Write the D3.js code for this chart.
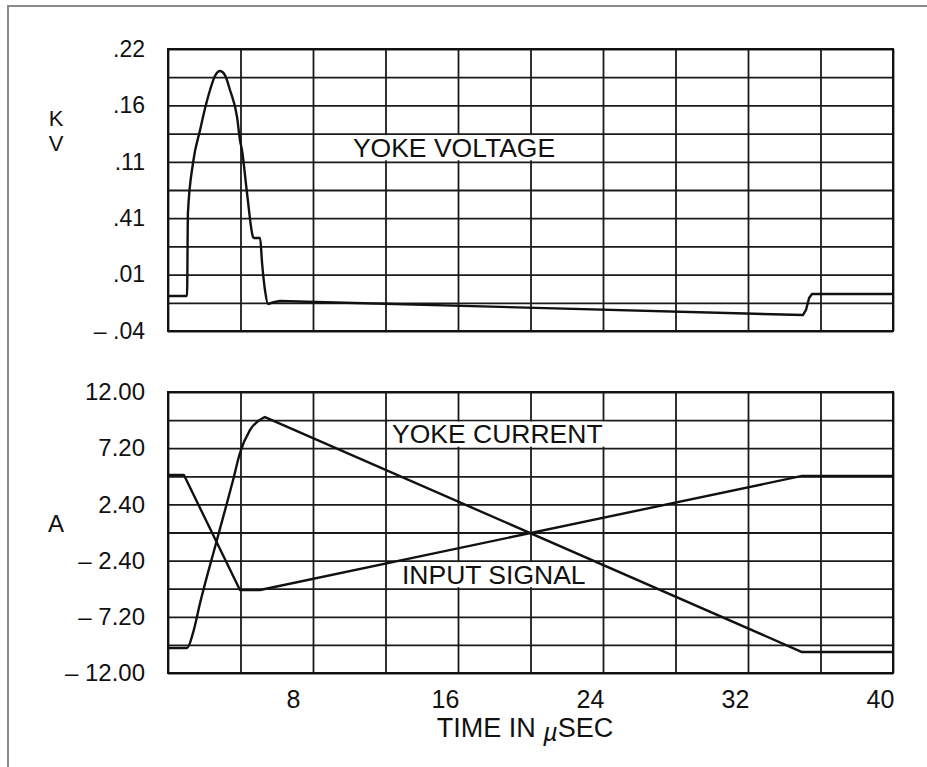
<!DOCTYPE html>
<html>
<head>
<meta charset="utf-8">
<script src="https://cdn.jsdelivr.net/npm/d3@7"></script>
<style>
  html, body { margin: 0; padding: 0; background: #fff; }
  svg { display: block; font-family: "Liberation Sans", Arial, Helvetica, sans-serif; }
  .grid line { stroke: #1a1a1a; stroke-width: 1.8; }
  .grid path { display: none; }
  .ticks path, .ticks line { display: none; }
  .ticks text { fill: #111; }
</style>
</head>
<body>
<svg id="chart" width="927" height="767"></svg>
<script>
// time axis (µs)
const timeTicks = [8, 16, 24, 32, 40];

// tick labels as printed (the ".41" is on the original)
const voltLabels = [".22", ".16", ".11", ".41", ".01", "\u2013 .04"];
const currLabels = ["12.00", "7.20", "2.40", "\u2013 2.40", "\u2013 7.20", "\u2013 12.00"];

// yoke voltage, kV
const voltT = [0, 1.05, 1.10, 1.38, 1.77, 1.93, 2.32, 2.59, 2.87, 3.14, 3.42, 3.81, 3.97, 4.08, 4.36, 4.69, 4.74, 5.08, 5.19, 5.35, 5.52, 5.68, 6.18, 35.03, 35.20, 35.37, 35.53, 40];
const voltV = [-0.0077, -0.0077, 0.0688, 0.1149, 0.1453, 0.1573, 0.1822, 0.1951, 0.1997, 0.196, 0.1822, 0.1573, 0.1361, 0.1269, 0.0872, 0.0467, 0.0457, 0.0457, 0.0227, -0.0022, -0.0151, -0.0142, -0.0123, -0.0253, -0.0206, -0.0096, -0.0059, -0.0059];

// yoke current, A
const currT = [0, 1.05, 1.38, 1.77, 2.70, 3.59, 3.97, 4.52, 5.24, 5.35, 34.98, 40];
const currA = [-9.86, -9.86, -8.58, -6.02, -0.64, 4.48, 6.79, 8.75, 9.78, 9.86, -10.21, -10.21];

// input signal
const inT = [0, 0.88, 3.97, 5.08, 34.98, 40];
const inA = [4.91, 4.91, -4.91, -4.91, 4.83, 4.83];

const svg = d3.select("#chart");

const left = 168, right = 893;
const x = d3.scaleLinear().domain([0, 40]).range([left, right]);
const yV = d3.scaleLinear().domain([-0.04, 0.22]).range([331, 49]);
const yA = d3.scaleLinear().domain([-12, 12]).range([673, 392]);

// paper frame (only top and left edges show)
svg.append("path")
   .attr("d", "M8,767 L8,6 L927,6")
   .attr("fill", "none")
   .attr("stroke", "#8a8a8a")
   .attr("stroke-width", 2);

function panel(yScale, labels, fontSize) {
    const d = yScale.domain();
    const r = yScale.range();
    const step = (d[1] - d[0]) / 10;
    const gridVals = d3.range(11).map(i => d[0] + i * step);
    const labelVals = d3.range(6).map(i => d[1] - i * 2 * step);

    svg.append("g")
       .attr("class", "grid")
       .attr("transform", `translate(0,${r[0]})`)
       .call(d3.axisBottom(x).tickValues(d3.range(0, 41, 4)).tickSize(-(r[0] - r[1])).tickFormat(""));

    svg.append("g")
       .attr("class", "grid")
       .attr("transform", `translate(${left},0)`)
       .call(d3.axisLeft(yScale).tickValues(gridVals).tickSize(-(right - left)).tickFormat(""));

    svg.append("rect")
       .attr("x", left).attr("y", r[1])
       .attr("width", right - left).attr("height", r[0] - r[1])
       .attr("fill", "none").attr("stroke", "#111").attr("stroke-width", 2);

    const ax = svg.append("g")
       .attr("class", "ticks")
       .attr("transform", `translate(${left},0)`)
       .call(d3.axisLeft(yScale).tickValues(labelVals).tickSize(0).tickPadding(23)
             .tickFormat((v, i) => labels[i]));
    ax.selectAll("text").style("font-size", fontSize + "px");
    ax.attr("font-family", null);
}

panel(yV, voltLabels, 23);
panel(yA, currLabels, 24);

// x tick labels (set left of their grid lines, as printed)
const xa = svg.append("g")
   .attr("class", "ticks")
   .attr("transform", "translate(0,673)")
   .call(d3.axisBottom(x).tickValues(timeTicks).tickSize(0).tickPadding(17));
xa.attr("font-family", null);
xa.selectAll("text").style("font-size", "25px").attr("text-anchor", "start").attr("dx", -27);

// curves: smooth where the trace bends, straight on the ramps
function trace(xs, ys, yScale, bendEnd) {
    const pts = xs.map((t, i) => [x(t), yScale(ys[i])]);
    const smooth = d3.line().curve(d3.curveMonotoneX);
    const straight = d3.line();
    let d = "";
    if (bendEnd > 0) d += smooth(pts.slice(0, bendEnd + 1));
    const rest = straight(pts.slice(bendEnd));
    d += bendEnd > 0 ? rest.replace(/^M/, "L") : rest;
    svg.append("path").attr("d", d)
       .attr("fill", "none").attr("stroke", "#111").attr("stroke-width", 2.4)
       .attr("stroke-linejoin", "round");
}

trace(voltT, voltV, yV, 22);
trace(currT, currA, yA, 9);
trace(inT, inA, yA, 0);

// in-plot labels, on white boxes between grid rows
function tag(text, t, rowTop, rowBottom, yScale) {
    const y0 = yScale(rowTop), y1 = yScale(rowBottom);
    const g = svg.append("g");
    const rect = g.append("rect").attr("fill", "#fff");
    const txt = g.append("text")
       .attr("x", x(t))
       .attr("y", y1 - 5)
       .style("font-size", "26.5px")
       .attr("fill", "#111")
       .text(text);
    const bb = txt.node().getBBox();
    rect.attr("x", bb.x - 3).attr("width", bb.width + 6)
        .attr("y", y0 + 1.5).attr("height", y1 - y0 - 3);
}

tag("YOKE VOLTAGE", 10.2, 0.142, 0.116, yV);
tag("YOKE CURRENT", 12.36, 9.6, 7.2, yA);
tag("INPUT SIGNAL", 12.91, -2.4, -4.8, yA);

// unit labels
svg.append("text").attr("x", 56).attr("y", 126).attr("text-anchor", "middle")
   .style("font-size", "22px").attr("fill", "#111").text("K");
svg.append("text").attr("x", 56).attr("y", 151).attr("text-anchor", "middle")
   .style("font-size", "22px").attr("fill", "#111").text("V");
svg.append("text").attr("x", 56).attr("y", 532).attr("text-anchor", "middle")
   .style("font-size", "24px").attr("fill", "#111").text("A");

// axis title
const title = svg.append("text")
   .attr("x", 525).attr("y", 737).attr("text-anchor", "middle")
   .style("font-size", "27px").attr("fill", "#111");
title.append("tspan").text("TIME IN ");
title.append("tspan").attr("font-style", "italic").attr("dy", 4).style("font-size", "25px").text("\u00b5");
title.append("tspan").attr("dy", -4).text("SEC");
</script>
</body>
</html>
